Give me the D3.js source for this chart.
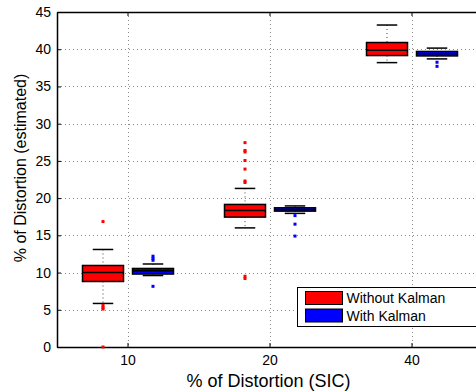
<!DOCTYPE html>
<html>
<head>
<meta charset="utf-8">
<script src="https://cdn.jsdelivr.net/npm/d3@7"></script>
<style>
  body { margin: 0; background: #fff; }
  svg { font-family: "Liberation Sans", Arial, Helvetica, sans-serif; }
</style>
</head>
<body>
<div id="chart"></div>
<script>
// Datos
const categories = ['10', '20', '40'];
const series = ['Without Kalman', 'With Kalman'];
const colors = ['#ff0000', '#0000ff'];
const yTicks = [0, 5, 10, 15, 20, 25, 30, 35, 40, 45];

// Sin Kalman
const noKalmanQ1 = [8.8, 17.45, 39.15];
const noKalmanMedian = [10.0, 18.35, 39.85];
const noKalmanQ3 = [10.95, 19.15, 40.9];
const noKalmanLow = [5.85, 16.0, 38.2];
const noKalmanHigh = [13.1, 21.3, 43.25];
const noKalmanOutliers = [[16.85, 5.6, 5.3, 5.1, 0], [27.45, 26.4, 26.2, 25.05, 23.9, 22.3, 22.1, 9.5, 9.2], []];

// Con Kalman
const kalmanQ1 = [9.8, 18.25, 39.1];
const kalmanMedian = [10.25, 18.45, 39.4];
const kalmanQ3 = [10.55, 18.7, 39.7];
const kalmanLow = [9.6, 17.95, 38.7];
const kalmanHigh = [11.15, 18.95, 40.15];
const kalmanOutliers = [[12.2, 11.9, 11.65, 8.15], [17.65, 16.5, 14.9], [38.25, 37.7]];

const stats = [
  { q1: noKalmanQ1, med: noKalmanMedian, q3: noKalmanQ3, lo: noKalmanLow, hi: noKalmanHigh, out: noKalmanOutliers },
  { q1: kalmanQ1, med: kalmanMedian, q3: kalmanQ3, lo: kalmanLow, hi: kalmanHigh, out: kalmanOutliers }
];

const W = 476, H = 392;
const margin = { top: 12, left: 57, bottom: 45 };

const svg = d3.select('#chart').append('svg')
  .attr('width', W).attr('height', H);

const x = d3.scaleBand().domain(categories).range([margin.left, 483]).padding(0);
const xSub = d3.scaleBand().domain(series).range([-50, 50]).padding(0);
const y = d3.scaleLinear().domain([0, 45]).range([H - margin.bottom, margin.top]);

const plotL = margin.left, plotR = 483, plotT = y(45), plotB = y(0);
const boxW = xSub.bandwidth() * 0.82;
const capW = boxW / 2;

// Rejilla
const grid = svg.append('g').attr('stroke', '#888').attr('stroke-width', 1).attr('stroke-dasharray', '1,3');
grid.selectAll('.gy').data(yTicks.slice(1, -1)).enter().append('line')
  .attr('x1', plotL).attr('x2', plotR)
  .attr('y1', d => Math.round(y(d)) + 0.5).attr('y2', d => Math.round(y(d)) + 0.5);
grid.selectAll('.gx').data(categories).enter().append('line')
  .attr('x1', d => Math.round(x(d) + x.bandwidth() / 2) + 0.5)
  .attr('x2', d => Math.round(x(d) + x.bandwidth() / 2) + 0.5)
  .attr('y1', plotT).attr('y2', plotB);

// Ejes
const axL = svg.append('g').attr('transform', 'translate(' + plotL + ',0)')
  .call(d3.axisLeft(y).tickValues(yTicks).tickSizeInner(-4).tickSizeOuter(0).tickPadding(6));
const axB = svg.append('g').attr('transform', 'translate(0,' + plotB + ')')
  .call(d3.axisBottom(x).tickSizeInner(-4).tickSizeOuter(0).tickPadding(8));
const axT = svg.append('g').attr('transform', 'translate(0,' + plotT + ')')
  .call(d3.axisTop(x).tickSizeInner(-4).tickSizeOuter(0).tickFormat(''));
[axL, axB, axT].forEach(a => {
  a.select('.domain').attr('stroke', '#000').attr('stroke-width', 1.5);
  a.selectAll('.tick line').attr('stroke', '#000');
  a.selectAll('.tick text').attr('font-size', 14).attr('fill', '#000');
});

// Cajas
stats.forEach((s, si) => {
  const g = svg.append('g');
  categories.forEach((c, ci) => {
    const cx = x(c) + x.bandwidth() / 2 + xSub(series[si]) + xSub.bandwidth() / 2;
    // bigotes
    g.append('line').attr('x1', cx).attr('x2', cx)
      .attr('y1', y(s.hi[ci])).attr('y2', y(s.q3[ci]))
      .attr('stroke', '#444').attr('stroke-dasharray', '1,3');
    g.append('line').attr('x1', cx).attr('x2', cx)
      .attr('y1', y(s.q1[ci])).attr('y2', y(s.lo[ci]))
      .attr('stroke', '#444').attr('stroke-dasharray', '1,3');
    [s.hi[ci], s.lo[ci]].forEach(v => {
      g.append('line').attr('x1', cx - capW / 2).attr('x2', cx + capW / 2)
        .attr('y1', y(v)).attr('y2', y(v))
        .attr('stroke', '#000').attr('stroke-width', 1.5);
    });
    g.append('rect')
      .attr('x', cx - boxW / 2).attr('width', boxW)
      .attr('y', y(s.q3[ci])).attr('height', y(s.q1[ci]) - y(s.q3[ci]))
      .attr('fill', colors[si]).attr('stroke', '#000').attr('stroke-width', 1.5);
    g.append('line').attr('x1', cx - boxW / 2).attr('x2', cx + boxW / 2)
      .attr('y1', y(s.med[ci])).attr('y2', y(s.med[ci]))
      .attr('stroke', '#000').attr('stroke-width', 1.5);
    g.selectAll('.out' + ci).data(s.out[ci]).enter().append('rect')
      .attr('x', cx - 1.5).attr('y', d => y(d) - 1.5)
      .attr('width', 3).attr('height', 3)
      .attr('fill', colors[si]);
  });
});

// Titulos de ejes
svg.append('text')
  .attr('x', (plotL + 476) / 2 + 2).attr('y', 387)
  .attr('text-anchor', 'middle').attr('font-size', 18)
  .text('% of Distortion (SIC)');
svg.append('text')
  .attr('transform', 'translate(26,' + 168 + ') rotate(-90)')
  .attr('text-anchor', 'middle').attr('font-size', 16)
  .text('% of Distortion (estimated)');

// Leyenda
const leg = svg.append('g').attr('transform', 'translate(297.5,287.5)');
leg.append('rect').attr('width', 200).attr('height', 39)
  .attr('fill', '#fff').attr('stroke', '#000').attr('stroke-width', 1);
series.forEach((name, i) => {
  leg.append('rect').attr('x', 8).attr('y', 4 + i * 17.5)
    .attr('width', 37).attr('height', 13)
    .attr('fill', colors[i]).attr('stroke', '#000').attr('stroke-width', 1);
  leg.append('text').attr('x', 49).attr('y', 15.5 + i * 17.5)
    .attr('font-size', 14).text(name);
});
</script>
</body>
</html>
